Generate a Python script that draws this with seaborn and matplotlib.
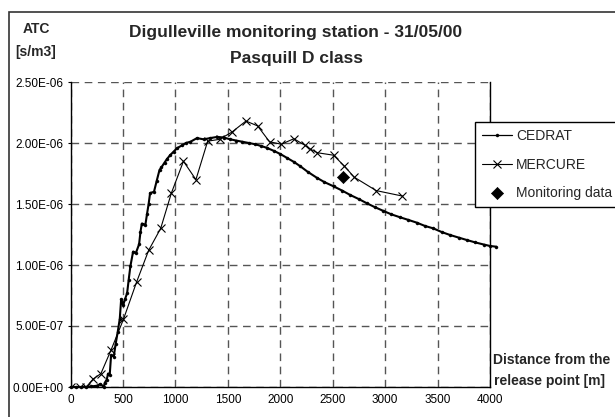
import matplotlib
matplotlib.use("Agg")
import matplotlib.pyplot as plt
import seaborn as sns
import numpy as np
import pandas as pd
from matplotlib.patches import Rectangle
from matplotlib.ticker import FuncFormatter, FixedLocator

# ---------------- data (ATC values in units of 1e-6 s/m3) ----------------
cedrat_x = [0, 50, 100, 150, 200, 250, 286, 317, 327, 345, 359, 374, 387, 413, 430,
            450, 470, 483, 502, 520, 540, 555, 571, 597, 624, 654, 667, 680, 714, 730,
            745, 759, 796, 822, 849, 867, 897, 921, 950, 984, 1020, 1063, 1100, 1143,
            1206, 1270, 1330, 1400, 1460, 1524, 1580, 1640, 1700, 1760, 1820, 1873,
            1940, 2000, 2060, 2130, 2190, 2260, 2349, 2420, 2508, 2590, 2667, 2750,
            2826, 2900, 2984, 3060, 3143, 3220, 3302, 3380, 3460, 3540, 3619, 3700,
            3778, 3860, 3940, 4000, 4060]
cedrat_y = [0, 0, 0, 0, 0.005, 0.01, 0.025, 0.0, 0.035, 0.06, 0.11, 0.10, 0.26, 0.25, 0.35,
            0.45, 0.56, 0.72, 0.67, 0.72, 0.77, 0.88, 0.99, 1.11, 1.10, 1.17, 1.27, 1.34, 1.33, 1.42,
            1.50, 1.59, 1.60, 1.69, 1.78, 1.80, 1.84, 1.87, 1.90, 1.93, 1.96, 1.98, 2.00, 2.01,
            2.04, 2.03, 2.04, 2.05, 2.045, 2.03, 2.02, 2.01, 2.00, 1.99, 1.975, 1.96,
            1.935, 1.91, 1.88, 1.845, 1.81, 1.765, 1.715, 1.68, 1.645, 1.61, 1.574, 1.54,
            1.506, 1.475, 1.443, 1.415, 1.391, 1.37, 1.347, 1.32, 1.30, 1.27, 1.246, 1.225,
            1.205, 1.185, 1.168, 1.156, 1.15]

mercure_x = [0, 93, 150, 215, 290, 385, 505, 630, 745, 860, 962, 1077, 1196, 1308, 1421,
             1540, 1673, 1784, 1898, 2010, 2130, 2238, 2286, 2355, 2508, 2612, 2705, 2914, 3165]
mercure_y = [0, 0, 0, 0.065, 0.11, 0.30, 0.555, 0.86, 1.12, 1.30, 1.59, 1.85, 1.70, 2.015, 2.03,
             2.09, 2.18, 2.14, 2.01, 1.99, 2.035, 1.98, 1.95, 1.92, 1.90, 1.81, 1.72, 1.61, 1.565]

monitor_x = [2603]
monitor_y = [1.72]

x_ticks = [0, 500, 1000, 1500, 2000, 2500, 3000, 3500, 4000]
y_ticks = [0.0, 0.5, 1.0, 1.5, 2.0, 2.5]

title_lines = ["Digulleville monitoring station - 31/05/00", "Pasquill D class"]
ylabel_lines = ["ATC", "[s/m3]"]
xlabel_lines = ["Distance from the", "release point [m]"]
series_names = ["CEDRAT", "MERCURE", "Monitoring data"]

# ---------------- style ----------------
sns.set_style("white")
plt.rcParams["font.family"] = ["Liberation Sans", "DejaVu Sans"]

W, H = 615, 417
fig = plt.figure(figsize=(W / 100, H / 100), dpi=100)
fig.patch.set_facecolor("white")

ax_l, ax_r, ax_t, ax_b = 70.5, 490, 82, 387
ax = fig.add_axes([ax_l / W, 1 - ax_b / H, (ax_r - ax_l) / W, (ax_b - ax_t) / H])
ax.set_facecolor("white")

cdf = pd.DataFrame({"x": cedrat_x, "y": np.array(cedrat_y) * 1e-6})
mdf = pd.DataFrame({"x": mercure_x, "y": np.array(mercure_y) * 1e-6})
odf = pd.DataFrame({"x": monitor_x, "y": np.array(monitor_y) * 1e-6})

sns.lineplot(data=cdf, x="x", y="y", ax=ax, color="black", linewidth=1.5,
             marker="o", markersize=2.2, markeredgecolor="black", markeredgewidth=0.3,
             sort=False, estimator=None, label=series_names[0], clip_on=False, zorder=4)
sns.lineplot(data=mdf, x="x", y="y", ax=ax, color="black", linewidth=0.8,
             marker="x", markersize=5.5, markeredgecolor="black", markeredgewidth=0.8,
             sort=False, estimator=None, label=series_names[1], zorder=5)
sns.scatterplot(data=odf, x="x", y="y", ax=ax, color="black", marker="D", s=38,
                edgecolor="black", linewidth=0.5, label=series_names[2], zorder=6)

ax.set_xlim(0, 4000)
ax.set_ylim(0, 2.5e-6)
ax.xaxis.set_major_locator(FixedLocator(x_ticks))
ax.yaxis.set_major_locator(FixedLocator([v * 1e-6 for v in y_ticks]))
ax.yaxis.set_major_formatter(FuncFormatter(lambda v, p: f"{v:.2E}"))
ax.set_xlabel("")
ax.set_ylabel("")

ax.grid(True, which="major", color="#555555", linewidth=1.0, linestyle=(0, (5.5, 4.0)))
ax.set_axisbelow(True)

for side in ["left", "bottom", "right"]:
    ax.spines[side].set_visible(True)
    ax.spines[side].set_color("black")
    ax.spines[side].set_linewidth(1.0)
ax.spines["top"].set_visible(False)

ax.tick_params(axis="y", which="major", direction="out", length=2.2, width=0.8,
               pad=3.0, labelsize=8.5, colors="black", left=True)
ax.tick_params(axis="x", which="major", direction="out", length=0, pad=5.0,
               labelsize=8.5, colors="black", bottom=True)

# legend (outside the plot, frame running past the right edge)
handles, labels = ax.get_legend_handles_labels()
if ax.get_legend() is not None:
    ax.get_legend().remove()
leg = fig.legend(handles, labels, loc="upper left",
                 bbox_to_anchor=(475 / W, 1 - 203 / H, 200 / W, 81 / H),
                 mode="expand", borderaxespad=0, frameon=True, fancybox=False,
                 fontsize=10, handlelength=2.15, handletextpad=0.3,
                 borderpad=0.5, labelspacing=1.05, framealpha=1)
leg.get_frame().set_edgecolor("black")
leg.get_frame().set_linewidth(1.0)
leg_lines = leg.get_lines()
if leg_lines:
    leg_lines[0].set_linewidth(0.9)

# titles and axis labels
fig.text(296 / W, 1 - 32 / H, title_lines[0], ha="center", va="center",
         fontsize=12.5, fontweight="bold")
fig.text(296 / W, 1 - 58.5 / H, title_lines[1], ha="center", va="center",
         fontsize=12.5, fontweight="bold")
fig.text(36 / W, 1 - 29 / H, ylabel_lines[0], ha="center", va="center",
         fontsize=10, fontweight="bold")
fig.text(36 / W, 1 - 52 / H, ylabel_lines[1], ha="center", va="center",
         fontsize=10, fontweight="bold")
fig.text(493 / W, 1 - 359.5 / H, xlabel_lines[0], ha="left", va="center",
         fontsize=10, fontweight="bold")
fig.text(494 / W, 1 - 380.5 / H, xlabel_lines[1], ha="left", va="center",
         fontsize=10, fontweight="bold")

# outer frame of the chart area
fig.patches.append(Rectangle((8.5 / W, -0.1), 1.2, 1 - 12.5 / H + 0.1,
                             transform=fig.transFigure, fill=False,
                             edgecolor="#333333", linewidth=1.2, zorder=0))

fig.savefig("out.png", dpi=100, facecolor="white")
